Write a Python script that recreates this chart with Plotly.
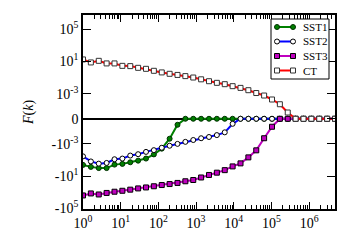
import numpy as np
import plotly.graph_objects as go

# ---- data ----
k = [1, 1.618, 2.618, 4.236, 6.854, 11.09, 17.94, 29.03, 46.98, 76.01,
     122.99, 199.0, 322.0, 521.0, 843.0, 1364.0, 2207.0, 3571.0, 5778.0, 9349.0,
     15127, 24476, 39603, 64079, 103682, 167761, 271443, 439204, 710647, 1149851,
     1860498, 3010349, 4870847]

sst1 = [-0.40, -0.71, -1.0, -1.0, -0.37, -0.30, -0.19, -0.12, -0.066, -0.020,
        -0.0039, -2.3e-4, -6.7e-6, 0, 0, 0, 0, 0, 0, 0,
        0, 0, 0, 0, 0, 0, 0, 0, 0, 0,
        0, 0, 0]

sst2 = [-0.035, -0.15, -0.28, -0.23, -0.080, -0.066, -0.028, -0.019, -0.0098, -0.0060,
        -0.0030, -0.0017, -0.0010, -5.6e-4, -3.3e-4, -2.0e-4, -1.4e-4, -8.1e-5, -3.7e-5, -5.6e-6,
        0, 0, 0, 0, 0, 0, 0, 0, 0, 0,
        0, 0, 0]

sst3 = [-2450, -1380, -1860, -1200, -850, -645, -470, -330, -250, -178,
        -126, -95, -69, -43, -30, -14.5, -7.1, -3.7, -1.8, -0.62,
        -0.26, -0.047, -0.0063, -2.0e-4, -8.9e-6, 0, 0, 0, 0, 0,
        0, 0, 0]

ct = [17.4, 7.4, 11.7, 5.6, 5.6, 2.8, 2.6, 1.6, 1.2, 0.68,
      0.43, 0.29, 0.21, 0.15, 0.10, 0.060, 0.035, 0.022, 0.015, 0.0085,
      0.0052, 0.0027, 0.0012, 5.9e-4, 1.9e-4, 4.9e-5, 7.0e-6, 0, 0, 0,
      0, 0, 0]

ytick_values = [1e5, 1e1, 1e-3, 0, -1e-3, -1e1, -1e5]
ytick_labels = ["10<sup>5</sup>", "10<sup>1</sup>", "10<sup>-3</sup>", "0",
                "-10<sup>-3</sup>", "-10<sup>1</sup>", "-10<sup>5</sup>"]
xtick_values = [1, 10, 100, 1e3, 1e4, 1e5, 1e6]
xtick_labels = ["10<sup>%d</sup>" % i for i in range(7)]

# ---- symmetric log scale (like matplotlib symlog, linthresh=1e-5) ----
LINTHRESH = 1e-5
LINSCALE = 1.0 / (1.0 - 0.1)


def symlog(v):
    v = np.asarray(v, dtype=float)
    a = np.abs(v)
    return np.where(a <= LINTHRESH, v / LINTHRESH * LINSCALE,
                    np.sign(v) * (LINSCALE + np.log10(np.maximum(a, LINTHRESH) / LINTHRESH)))


FONT = "Liberation Serif"
# the page body has an 8px margin, so the figure is placed at (8, 8) in the window
OFF = 8
WIN_W, WIN_H = 350, 250
W, H = WIN_W - OFF, WIN_H - OFF
# plot area in window pixels
PL, PR, PT, PB = 83, 335, 15, 209
ML, MR, MT, MB = PL - OFF, W - (PR - OFF), PT - OFF, H - (PB - OFF)
PW, PH = PR - PL, PB - PT

series = [
    ("SST1", sst1, "#008000", "circle", "#008000", "#003000"),
    ("SST2", sst2, "#0000ff", "circle", "white", "black"),
    ("SST3", sst3, "#bf00bf", "square", "#bf00bf", "black"),
    ("CT", ct, "#ff0000", "square", "white", "#333333"),
]

fig = go.Figure()
for name, vals, col, sym, fill, edge in series:
    fig.add_trace(go.Scatter(
        x=k, y=symlog(vals), name=name, mode="lines+markers",
        line=dict(color=col, width=2),
        marker=dict(symbol=sym, size=5, color=fill, line=dict(color=edge, width=1)),
        showlegend=False,
    ))


# ---- compact legend box (matplotlib style, two markers per sample) ----
def px(xp):
    return (xp - PL) / PW


def py(yp):
    return (PB - yp) / PH


LEG_L, LEG_R, LEG_T, LEG_B = 271, 329, 19, 79
ROW0, ROW_STEP = 27, 14.5
SAMPLE_X0, SAMPLE_X1, TEXT_X = 277, 293, 301

shapes = [dict(type="rect", xref="paper", yref="paper",
               x0=px(LEG_L), x1=px(LEG_R), y0=py(LEG_B), y1=py(LEG_T),
               line=dict(color="black", width=1), fillcolor="white", layer="above")]
annotations = []
for i, (name, vals, col, sym, fill, edge) in enumerate(series):
    yy = py(ROW0 + ROW_STEP * i)
    shapes.append(dict(type="line", xref="paper", yref="paper",
                       x0=px(SAMPLE_X0), x1=px(SAMPLE_X1), y0=yy, y1=yy,
                       line=dict(color=col, width=2), layer="above"))
    for xs in (SAMPLE_X0, SAMPLE_X1):
        shapes.append(dict(type="circle" if sym == "circle" else "rect",
                           xref="paper", yref="paper",
                           xsizemode="pixel", ysizemode="pixel",
                           xanchor=px(xs), yanchor=yy,
                           x0=-2.5, x1=2.5, y0=-2.5, y1=2.5,
                           fillcolor=fill, line=dict(color=edge, width=1),
                           layer="above"))
    annotations.append(dict(x=px(TEXT_X), y=yy, xref="paper", yref="paper",
                            text=name, showarrow=False, xanchor="left", yanchor="middle",
                            font=dict(family=FONT, size=11, color="black")))

fig.update_layout(
    width=W, height=H,
    margin=dict(l=ML, r=MR, t=MT, b=MB),
    paper_bgcolor="white", plot_bgcolor="white",
    font=dict(family=FONT, size=14, color="black"),
    showlegend=False,
    shapes=shapes, annotations=annotations,
)

fig.update_xaxes(
    type="log", range=[0, np.log10(k[-1])], automargin=False,
    tickvals=xtick_values, ticktext=xtick_labels,
    ticks="inside", ticklen=7, tickwidth=1, tickcolor="black",
    showline=True, linecolor="black", linewidth=1.5, mirror="allticks",
    showgrid=False, zeroline=False,
    minor=dict(ticks="inside", ticklen=4, tickwidth=1, tickcolor="black",
               dtick="D1", showgrid=False),
    tickfont=dict(family=FONT, size=14),
)

fig.update_yaxes(
    range=[-11.18, 12.86], automargin=False,
    tickvals=symlog(ytick_values), ticktext=ytick_labels,
    ticks="inside", ticklen=8, tickwidth=1, tickcolor="black",
    showline=True, linecolor="black", linewidth=1.5, mirror="allticks",
    showgrid=False, zeroline=True, zerolinecolor="black", zerolinewidth=1.5,
    tickfont=dict(family=FONT, size=14),
    title=dict(text="<i>F</i>(<i>k</i>)", font=dict(family=FONT, size=14)),
)

fig.write_html("out.html")
